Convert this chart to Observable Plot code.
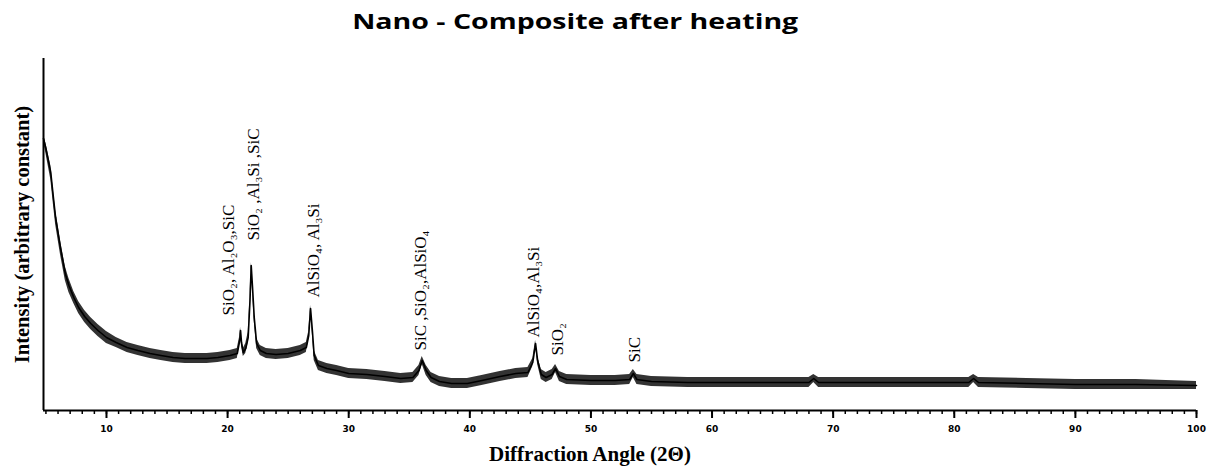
<!DOCTYPE html>
<html><head><meta charset="utf-8">
<script src="https://cdn.jsdelivr.net/npm/d3@7"></script>
<script src="https://cdn.jsdelivr.net/npm/@observablehq/plot@0.6"></script>
<style>
body{margin:0;background:#fff;}
#title{position:relative;height:40px;width:1150px;text-align:center;line-height:40px;font-family:"Open Sans",sans-serif;font-weight:700;font-size:22px;color:#000;}
#title span{display:inline-block;transform-origin:center;}
</style></head><body>
<div id="title"><span id="tt">Nano - Composite after heating</span></div>
<div id="chart"></div>
<script>
// XRD pattern: angle (2θ), intensity (arbitrary units), band spread
const angle = [4.8,5.0,5.2,5.4,5.6,5.8,6.0,6.2,6.4,6.6,6.9,7.3,7.7,8.2,8.7,9.3,10.0,10.8,11.7,12.6,13.6,14.5,15.5,16.5,17.5,18.3,19.2,20.2,20.8,21.0,21.07,21.15,21.3,21.5,21.7,21.85,21.95,22.05,22.2,22.4,22.7,23.2,24,25,26,26.5,26.7,26.85,27.0,27.15,27.5,28.2,29,30,31.5,33,34.3,35.3,35.8,36.07,36.4,36.8,37.5,38.5,39.8,41,42.5,43.8,44.8,45.2,45.43,45.6,45.9,46.3,46.8,47.08,47.4,48,50,52,53.2,53.5,53.8,55,58,62,65,68.0,68.4,68.8,72,76,80,81.2,81.6,82.0,86,90,95,100];
const intensity = [272,262,250,238,215,193,178,163,150,137,125,113,103,94,87,80,73,68,63,60,57,55,53,52,52,52,53,55,57,70,80,68,58,62,73,110,145,125,93,67,60,57,56,57,60,63,75,102,80,55,45,42,40,37,36,34,32,33,40,50,40,33,29,27,27,30,34,37,38,48,67,50,36,33,36,42,34,31,30,30,31,37,31,29,28,28,28,28,32,28,28,28,28,28,32,28,27,26,26,25];
const spread = [3,5,6,7,7,7,7,7,7,7,7,6,6,6,6,6,6,5,5,5,5,5,5,5,5,5,5,5,5,4,3,4,4,5,5,4,3,4,4,5,5,5,5,5,5,5,4,3,4,5,5,5,5,5,5,5,5,5,5,4,5,5,5,5,5,5,5,5,5,4,3,4,5,5,5,4,5,5,5,5,5,4,5,5,5,5,5,5,4,5,5,5,5,5,4,5,5,5,5,4];

// peak annotations
const peakAngle = [20.07, 22.18, 27.13, 35.93, 45.3, 47.28, 53.56];
const peakBase = [95, 170, 113, 60, 73, 55, 48];
const peakText = ["SiO₂, Al₂O₃,SiC", "SiO₂ ,Al₃Si ,SiC", "AlSiO₄, Al₃Si", "SiC ,SiO₂,AlSiO₄", "AlSiO₄,Al₃Si", "SiO₂", "SiC"];

const majorTicks = [10,20,30,40,50,60,70,80,90,100];
const minorTicks = d3.range(5, 101, 1);

const xLabel = "Diffraction Angle (2Θ)";
const yLabel = "Intensity (arbitrary constant)";

const data = angle.map((a, i) => ({a, y: intensity[i], lo: intensity[i] - spread[i], hi: intensity[i] + spread[i]}));
const peaks = peakAngle.map((a, i) => ({a, y: peakBase[i], t: peakText[i]}));

const chart = Plot.plot({
  width: 1213, height: 430,
  marginLeft: 43, marginRight: 17, marginTop: 18, marginBottom: 60,
  x: {domain: [4.8, 100]},
  y: {domain: [0, 352]},
  style: {background: "#fff", color: "#000"},
  marks: [
    Plot.areaY(data, {x: "a", y1: "lo", y2: "hi", fill: "#333"}),
    Plot.line(data, {x: "a", y: "y", stroke: "#000", strokeWidth: 1.6}),
    Plot.axisY({ticks: [], label: null, tickSize: 0}),
    Plot.axisX({ticks: minorTicks, tickSize: 4, tickFormat: () => "", label: null, strokeWidth: 1.5}),
    Plot.axisX({ticks: majorTicks, tickSize: 8, tickPadding: 7, strokeWidth: 2, label: null,
      fontSize: 9, fontWeight: "bold", fontFamily: "DejaVu Sans", letterSpacing: 2}),
    Plot.ruleY([0], {stroke: "#000", strokeWidth: 2}),
    Plot.ruleX([4.8], {stroke: "#000", strokeWidth: 2}),
    Plot.text(peaks, {x: "a", y: "y", text: "t", rotate: -90, textAnchor: "start",
      fontFamily: "Liberation Serif", fontSize: 17, fill: "#000"}),
    Plot.text([xLabel], {frameAnchor: "bottom", dx: -30, dy: 44, lineAnchor: "middle", text: d => d,
      fontFamily: "Liberation Serif", fontWeight: "bold", fontSize: 21, fill: "#000"}),
    Plot.text([yLabel], {frameAnchor: "left", dx: -21, rotate: -90, textAnchor: "middle", lineAnchor: "middle", text: d => d,
      fontFamily: "Liberation Serif", fontWeight: "bold", fontSize: 20.5, fill: "#000"})
  ]
});
document.getElementById("chart").appendChild(chart);
// stretch title to the reference width
const tt = document.getElementById("tt");
const w = tt.getBoundingClientRect().width;
tt.style.transform = `scaleX(${446 / w})`;
</script>
</body></html>
